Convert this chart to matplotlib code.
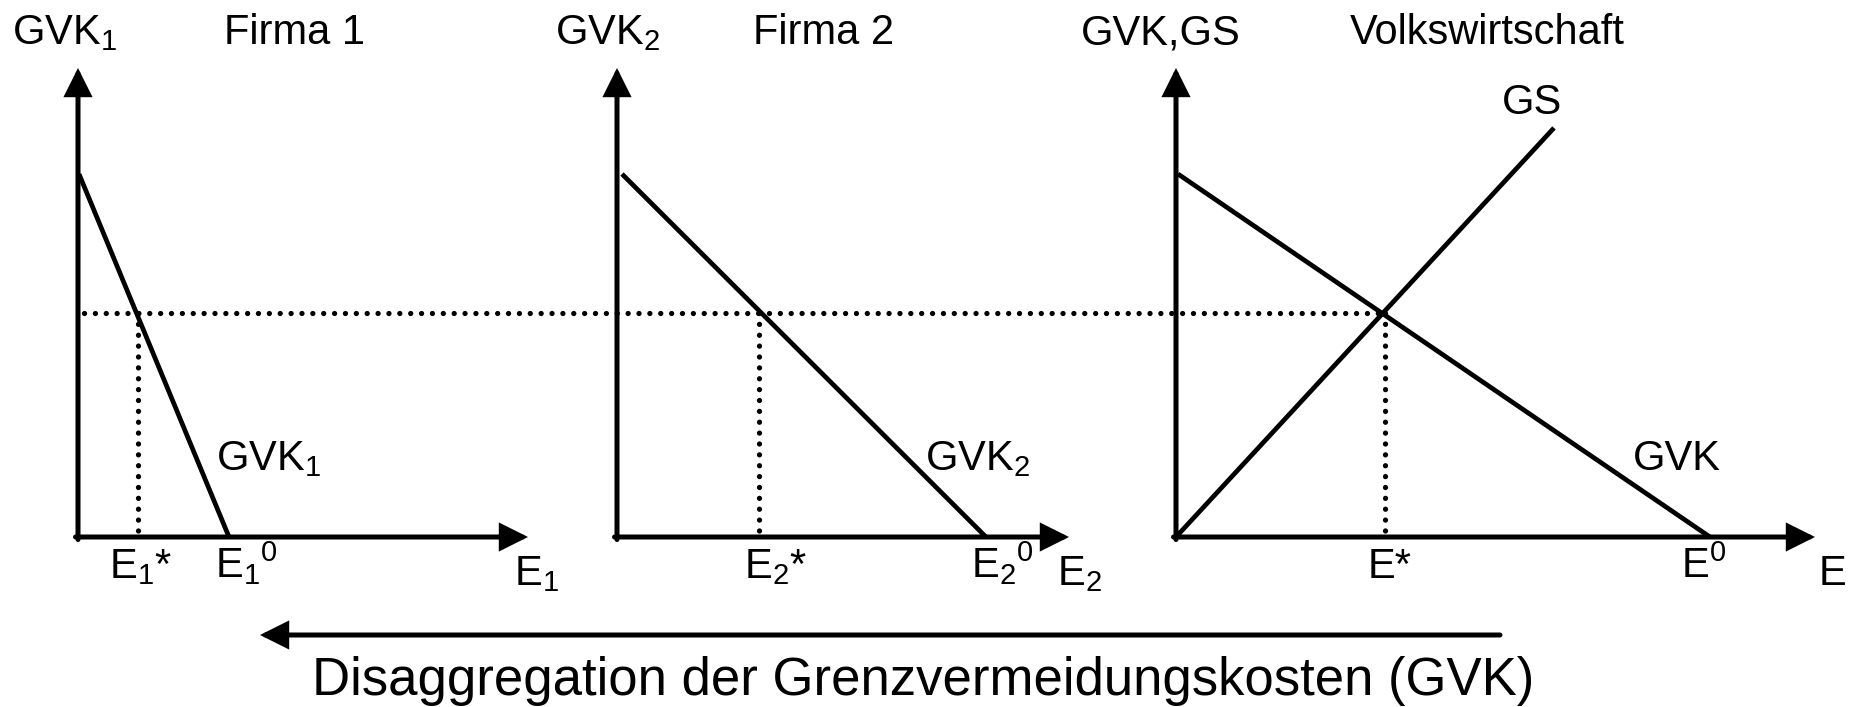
import matplotlib
matplotlib.use("Agg")
import matplotlib.pyplot as plt

plt.rcParams["font.family"] = ["Liberation Sans", "DejaVu Sans"]
plt.rcParams["mathtext.fontset"] = "custom"
plt.rcParams["mathtext.rm"] = "Liberation Sans"
plt.rcParams["mathtext.it"] = "Liberation Sans"
plt.rcParams["mathtext.default"] = "regular"

W, H, DPI = 1852, 707, 100

# diagram values (E = emissions, price = GVK in abstract units)
titles = ["Firma 1", "Firma 2", "Volkswirtschaft"]
y_names = ["GVK$_1$", "GVK$_2$", "GVK,GS"]
curve_names = ["GVK$_1$", "GVK$_2$", "GVK"]
x_names = ["E$_1$", "E$_2$", "E"]
star_names = ["E$_1$*", "E$_2$*", "E*"]
zero_names = ["E$_1$$^0$", "E$_2$$^0$", "E$^0$"]
gvk_start = [(0.01, 10.0), (0.05, 10.0), (0.02, 10.0)]
e_zero = [1.51, 3.69, 5.34]
e_star = [0.6, 1.42, 2.09]
p_star = 6.17
gs_start = (0.0, 0.0)
gs_end = (3.78, 11.27)
x_axis_len = [4.5, 4.52, 6.39]
y_axis_len = 12.92

# layout in pixels
ORIGINS = [(78, 537), (617, 537), (1176, 537)]
QX, PY = 100.0, 36.3
FS = 30
DOTS = dict(color="black", lw=3.8, ls=(0, (0.01, 2.05)), dash_capstyle="round")


def fx(x):
    return x / W


def fy(y):
    return 1 - y / H


fig = plt.figure(figsize=(W / DPI, H / DPI), dpi=DPI)
fig.patch.set_facecolor("white")

axes = []
for ox, oy in ORIGINS:
    ax = fig.add_axes([0, 0, 1, 1])
    ax.set_xlim(-ox / QX, (W - ox) / QX)
    ax.set_ylim(-(H - oy) / PY, oy / PY)
    ax.axis("off")
    ax.patch.set_alpha(0)
    axes.append(ax)

arrow = dict(arrowstyle="-|>", lw=3.6, color="black", mutation_scale=38,
             shrinkA=0, shrinkB=0, joinstyle="miter")

for i, ax in enumerate(axes):
    # axes with arrow heads
    ax.annotate("", xy=(0, y_axis_len), xytext=(0, -0.07), arrowprops=arrow)
    ax.annotate("", xy=(x_axis_len[i], 0), xytext=(-0.025, 0), arrowprops=arrow)
    # marginal abatement cost curve
    x0, p0 = gvk_start[i]
    ax.plot([x0, e_zero[i]], [p0, 0], color="black", lw=3.4, solid_capstyle="butt")
    # vertical dotted line at the optimum
    ax.plot([e_star[i], e_star[i]], [p_star, 0], **DOTS)

# marginal damage curve
axes[2].plot([gs_start[0], gs_end[0]], [gs_start[1], gs_end[1]], color="black",
             lw=3.4, solid_capstyle="butt")

# horizontal dotted line through all three panels
h_end = (ORIGINS[2][0] - ORIGINS[0][0]) / QX + e_star[2]
axes[0].plot([0.06, h_end], [p_star, p_star], **DOTS)

# texts (pixel layout)
title_pos = [(12, 224), (555, 753), (1081, 1350)]
for i in range(3):
    fig.text(fx(title_pos[i][0]), fy(44), y_names[i], fontsize=FS, va="baseline")
    fig.text(fx(title_pos[i][1]), fy(44), titles[i], fontsize=FS, va="baseline")

curve_pos = [216, 925, 1633]
for i in range(3):
    fig.text(fx(curve_pos[i]), fy(470), curve_names[i], fontsize=FS, va="baseline")
fig.text(fx(1532), fy(114), "GS", fontsize=FS, va="baseline", ha="center")

star_pos = [109, 744, 1368]
zero_pos = [215, 971, 1681]
xname_pos = [514, 1057, 1819]
for i in range(3):
    fig.text(fx(star_pos[i]), fy(578), star_names[i], fontsize=FS, va="baseline")
    fig.text(fx(zero_pos[i]), fy(578), zero_names[i], fontsize=FS, va="baseline")
    fig.text(fx(xname_pos[i]), fy(585), x_names[i], fontsize=FS, va="baseline")

# bottom arrow and caption
fig.add_artist(matplotlib.patches.FancyArrowPatch(
    (fx(1500), fy(635)), (fx(260), fy(635)), transform=fig.transFigure,
    arrowstyle="-|>", lw=3.6, color="black", mutation_scale=38,
    shrinkA=0, shrinkB=0, joinstyle="miter"))
fig.text(fx(923), fy(695), "Disaggregation der Grenzvermeidungskosten (GVK)",
         fontsize=38, ha="center", va="baseline")

fig.savefig("out.png", dpi=DPI, facecolor="white")
